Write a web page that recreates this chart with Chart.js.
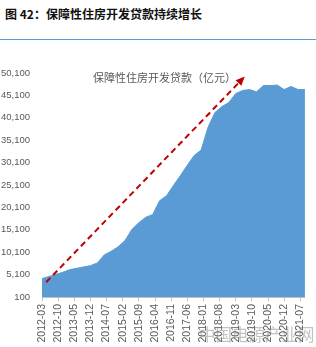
<!DOCTYPE html>
<html lang="zh">
<head>
<meta charset="utf-8">
<style>
  html, body { margin: 0; padding: 0; background: #fff; }
  body { width: 316px; height: 347px; position: relative; overflow: hidden; }
  #title { position: absolute; left: 5px; top: 5px; font: bold 12px "Noto Sans CJK SC", sans-serif; color: #111; }
  #rule { position: absolute; left: 0; top: 39px; width: 316px; height: 0; border-top: 1.5px solid #5B9BD5; }
  #wrap { position: absolute; left: 0; top: 45px; width: 316px; height: 302px; }
  #mark { position: absolute; left: 199px; top: 322px; font: 16.5px "Noto Sans CJK SC", sans-serif; color: rgba(110,110,110,0.42); }
</style>
</head>
<body>
<div id="title">图 42：保障性住房开发贷款持续增长</div>
<div id="rule"></div>
<div id="wrap"><canvas id="myChart"></canvas></div>
<div id="mark">中国电源产业网</div>

<script src="https://cdn.jsdelivr.net/npm/chart.js"></script>
<script>
    var seriesName = '保障性住房开发贷款（亿元）';

    var quarters = ['2012-03','2012-06','2012-09','2012-12','2013-03','2013-06','2013-09','2013-12',
        '2014-03','2014-06','2014-09','2014-12','2015-03','2015-06','2015-09','2015-12',
        '2016-03','2016-06','2016-09','2016-12','2017-03','2017-06','2017-09','2017-12',
        '2018-03','2018-06','2018-09','2018-12','2019-03','2019-06','2019-09','2019-12',
        '2020-03','2020-06','2020-09','2020-12','2021-03','2021-06','2021-09'];

    var loans = [4200, 4700, 5150, 5600, 6200, 6500, 6800, 7100,
        7700, 9500, 10300, 11300, 12700, 15200, 16700, 17900,
        18500, 21600, 22700, 25000, 27200, 29500, 31700, 32900,
        38000, 41300, 42600, 43500, 45500, 46200, 46400, 45900,
        47300, 47300, 47400, 46400, 47100, 46400, 46400];

    var tickLabels = ['2012-03','2012-10','2013-05','2013-12','2014-07','2015-02','2015-09',
        '2016-04','2016-11','2017-06','2018-01','2018-08','2019-03','2019-10','2020-05',
        '2020-12','2021-07'];

    // trend arrow, [month, value]
    var arrowFrom = ['2012-05', 3400];
    var arrowTo = ['2019-06', 49300];

    function monthIndex(s) {
        var p = s.split('-');
        return (parseInt(p[0]) - 2012) * 12 + parseInt(p[1]) - 3;
    }

    var points = quarters.map(function (q, i) { return { x: monthIndex(q), y: loans[i] }; });
    var tickValues = tickLabels.map(monthIndex);

    var extras = {
        id: 'extras',
        afterDatasetsDraw: function (chart) {
            var ctx = chart.ctx;
            var xs = chart.scales.x, ys = chart.scales.y;
            var x1 = xs.getPixelForValue(monthIndex(arrowFrom[0]) - 0.2), y1 = ys.getPixelForValue(arrowFrom[1]);
            var x2 = xs.getPixelForValue(monthIndex(arrowTo[0]) + 0.9), y2 = ys.getPixelForValue(arrowTo[1]);
            var ang = Math.atan2(y2 - y1, x2 - x1);
            ctx.save();
            ctx.strokeStyle = '#C00000';
            ctx.fillStyle = '#C00000';
            ctx.lineWidth = 2;
            ctx.setLineDash([6, 4]);
            ctx.beginPath();
            ctx.moveTo(x1, y1);
            ctx.lineTo(x2 - 6 * Math.cos(ang), y2 - 6 * Math.sin(ang));
            ctx.stroke();
            ctx.setLineDash([]);
            ctx.beginPath();
            ctx.moveTo(x2, y2);
            ctx.lineTo(x2 - 9 * Math.cos(ang) + 4 * Math.sin(ang), y2 - 9 * Math.sin(ang) - 4 * Math.cos(ang));
            ctx.lineTo(x2 - 9 * Math.cos(ang) - 4 * Math.sin(ang), y2 - 9 * Math.sin(ang) + 4 * Math.cos(ang));
            ctx.closePath();
            ctx.fill();

            ctx.font = '11px "Noto Sans CJK SC", sans-serif';
            ctx.fillStyle = '#595959';
            ctx.textBaseline = 'middle';
            ctx.fillText(seriesName, 93, 33);
            ctx.restore();
        }
    };

    var myChart = new Chart(document.getElementById('myChart'), {
        type: 'line',
        data: {
            datasets: [{
                label: seriesName,
                data: points,
                backgroundColor: '#5B9BD5',
                borderColor: '#5B9BD5',
                borderWidth: 1,
                fill: 'start',
                pointRadius: 0,
                tension: 0
            }]
        },
        options: {
            responsive: true,
            maintainAspectRatio: false,
            animation: false,
            layout: { padding: { top: 28, right: 6, left: 0, bottom: 0 } },
            plugins: { legend: { display: false }, title: { display: false }, tooltip: { enabled: false } },
            scales: {
                x: {
                    type: 'linear',
                    min: 0,
                    max: 114,
                    afterBuildTicks: function (scale) {
                        scale.ticks = tickValues.map(function (v) { return { value: v }; });
                    },
                    afterFit: function (scale) { scale.height = 50; },
                    ticks: {
                        autoSkip: false,
                        maxRotation: 90,
                        minRotation: 90,
                        padding: 3,
                        color: '#595959',
                        font: { family: 'Liberation Sans', size: 10.5 },
                        callback: function (v) { return tickLabels[tickValues.indexOf(v)]; }
                    },
                    grid: { display: true, drawOnChartArea: false, tickLength: 4, color: '#BFBFBF' },
                    border: { display: true, color: '#BFBFBF' }
                },
                y: {
                    min: 100,
                    max: 50100,
                    afterFit: function (scale) { scale.width = 42; },
                    ticks: {
                        stepSize: 5000,
                        padding: 12,
                        color: '#595959',
                        font: { family: 'Liberation Sans', size: 9.5 }
                    },
                    grid: { display: false, drawTicks: false, tickLength: 0 },
                    border: { display: false }
                }
            }
        },
        plugins: [extras]
    });
</script>
</body>
</html>
